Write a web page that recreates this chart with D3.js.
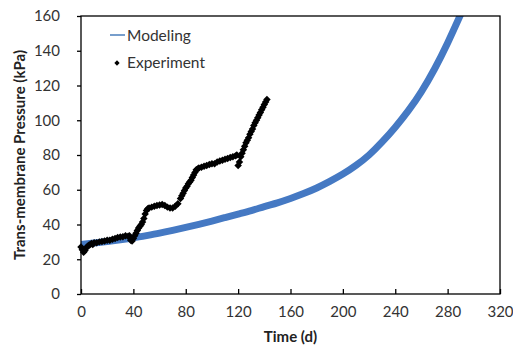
<!DOCTYPE html>
<html>
<head>
<meta charset="utf-8">
<script src="https://cdn.jsdelivr.net/npm/d3@7"></script>
<style>
  html, body { margin: 0; padding: 0; background: #fff; }
  svg { display: block; }
  text { font-family: Lato, "Open Sans", sans-serif; }
</style>
</head>
<body>
<svg id="chart" width="513" height="348"></svg>
<script>
// ---- Data ----
const xTicks = [0, 40, 80, 120, 160, 200, 240, 280, 320];
const yTicks = [0, 20, 40, 60, 80, 100, 120, 140, 160];

const modelTime = [0, 10, 20, 30, 40, 50, 60, 70, 80, 90, 100, 110, 120, 130, 140, 150, 160, 170, 180, 190, 200, 210, 220, 230, 240, 250, 260, 270, 280, 290];
const modelTMP  = [28.5, 29.3, 30.2, 31.2, 32.3, 33.6, 35, 36.6, 38.3, 40.1, 42, 44, 46, 48, 50.3, 52.5, 55, 57.8, 61, 64.8, 69, 74, 80, 87.5, 96, 105.5, 116.5, 129.5, 144.5, 161];

const expTime = [0, 1, 2, 3, 4, 5, 6, 7, 8, 9, 10, 12, 14, 16, 18, 20, 22, 24, 26, 28, 30, 32, 34, 36, 37, 38, 39, 40, 41, 42, 43, 44, 45, 46, 47, 48, 49, 50, 51, 52, 54, 56, 58, 60, 62, 64, 66, 68, 70, 72, 74, 76, 77, 78, 79, 80, 81, 82, 83, 84, 85, 86, 87, 88, 89, 90, 92, 94, 96, 98, 100, 102, 104, 106, 108, 110, 112, 114, 116, 118, 119, 120, 121, 122, 123, 124, 125, 126, 127, 128, 129, 130, 131, 132, 133, 134, 135, 136, 137, 138, 139, 140, 141, 142];
const expTMP  = [27, 25.5, 24, 25, 26.5, 27.5, 28, 28.5, 29, 28.5, 29.5, 29.5, 30, 30.2, 30.5, 31, 31, 31.5, 32, 32.5, 32.8, 33, 33.5, 33.2, 33.5, 31, 30.5, 32, 33.5, 35, 36.5, 38, 39, 40, 41.5, 43.5, 46, 48, 49, 49.5, 50, 50.5, 51, 51.2, 51.5, 51, 50, 49.5, 49.5, 50.5, 52, 55, 56.5, 58, 59.5, 61, 62, 63.5, 64.5, 65.5, 67, 68.5, 70, 71.5, 72, 72.5, 73, 73.5, 74, 74.5, 75, 75, 76, 76.5, 77, 77.5, 78, 78.5, 79, 79.5, 80, 74, 76, 79, 81, 83, 85, 87, 88.5, 90, 92, 93.5, 95, 97, 98.5, 100, 101.5, 103, 104.5, 106, 107.5, 109, 110.5, 112];

const seriesNames = ["Modeling", "Experiment"];

// ---- Layout ----
const svg = d3.select("#chart");
const margin = { left: 81, right: 13, top: 16, bottom: 54 };
const W = 513, H = 348;
const x = d3.scaleLinear().domain([0, 320]).range([margin.left, W - margin.right]);
const y = d3.scaleLinear().domain([0, 160]).range([H - margin.bottom, margin.top]);

const modelData = modelTime.map((t, i) => ({ t, v: modelTMP[i] }));
const expData = expTime.map((t, i) => ({ t, v: expTMP[i] }));

svg.append("defs").append("clipPath").attr("id", "clip")
  .append("rect").attr("x", x(0)).attr("y", y(160)).attr("width", x(320) - x(0)).attr("height", y(0) - y(160));

// Modeling line
svg.append("path")
  .datum(modelData)
  .attr("clip-path", "url(#clip)")
  .attr("fill", "none")
  .attr("stroke", "#4579c3")
  .attr("stroke-width", 7)
  .attr("d", d3.line().x(d => x(d.t)).y(d => y(d.v)).curve(d3.curveNatural));

// Experiment markers (square rotated 45deg, Excel-style diamond)
const diamond = d3.symbol().type(d3.symbolSquare).size(28);
svg.append("g").selectAll("path")
  .data(expData)
  .join("path")
  .attr("transform", d => `translate(${x(d.t)},${y(d.v)}) rotate(45)`)
  .attr("d", diamond)
  .attr("fill", "#000");

// Frame
svg.append("rect")
  .attr("x", x(0)).attr("y", y(160))
  .attr("width", x(320) - x(0)).attr("height", y(0) - y(160))
  .attr("fill", "none").attr("stroke", "#000").attr("stroke-width", 1.3);

// X axis (ticks inward)
const xAxis = svg.append("g").attr("transform", `translate(0,${y(0)})`)
  .call(d3.axisBottom(x).tickValues(xTicks).tickSize(-5).tickPadding(12).tickFormat(d3.format("d")));
xAxis.select(".domain").remove();
xAxis.selectAll("line").attr("stroke", "#000").attr("stroke-width", 1.3);
xAxis.selectAll("text").attr("font-size", 15).attr("fill", "#333").attr("font-family", "Lato, sans-serif");

// Y axis (ticks outward)
const yAxis = svg.append("g").attr("transform", `translate(${x(0)},0)`)
  .call(d3.axisLeft(y).tickValues(yTicks).tickSize(4).tickPadding(17).tickFormat(d3.format("d")));
yAxis.select(".domain").remove();
yAxis.selectAll("line").attr("stroke", "#000").attr("stroke-width", 1.3);
yAxis.selectAll("text").attr("font-size", 15).attr("fill", "#333").attr("font-family", "Lato, sans-serif");

// Axis titles
svg.append("text")
  .attr("x", (x(0) + x(320)) / 2).attr("y", 342)
  .attr("text-anchor", "middle").attr("font-weight", "bold").attr("font-size", 15).attr("fill", "#222")
  .text("Time (d)");
svg.append("text")
  .attr("transform", `translate(25,${(y(0) + y(160)) / 2}) rotate(-90)`)
  .attr("text-anchor", "middle").attr("font-weight", "bold").attr("font-size", 15).attr("fill", "#222")
  .text("Trans-membrane Pressure (kPa)");

// Legend
const lg = svg.append("g");
lg.append("line").attr("x1", 110).attr("x2", 125).attr("y1", 35).attr("y2", 35)
  .attr("stroke", "#4a7ebb").attr("stroke-width", 1.5);
lg.append("text").attr("x", 127).attr("y", 40.5).attr("font-size", 15.5).attr("fill", "#333").text(seriesNames[0]);
lg.append("path").attr("transform", "translate(117,63) rotate(45)").attr("d", d3.symbol().type(d3.symbolSquare).size(14)).attr("fill", "#000");
lg.append("text").attr("x", 127).attr("y", 68).attr("font-size", 15.5).attr("fill", "#333").text(seriesNames[1]);
</script>
</body>
</html>
